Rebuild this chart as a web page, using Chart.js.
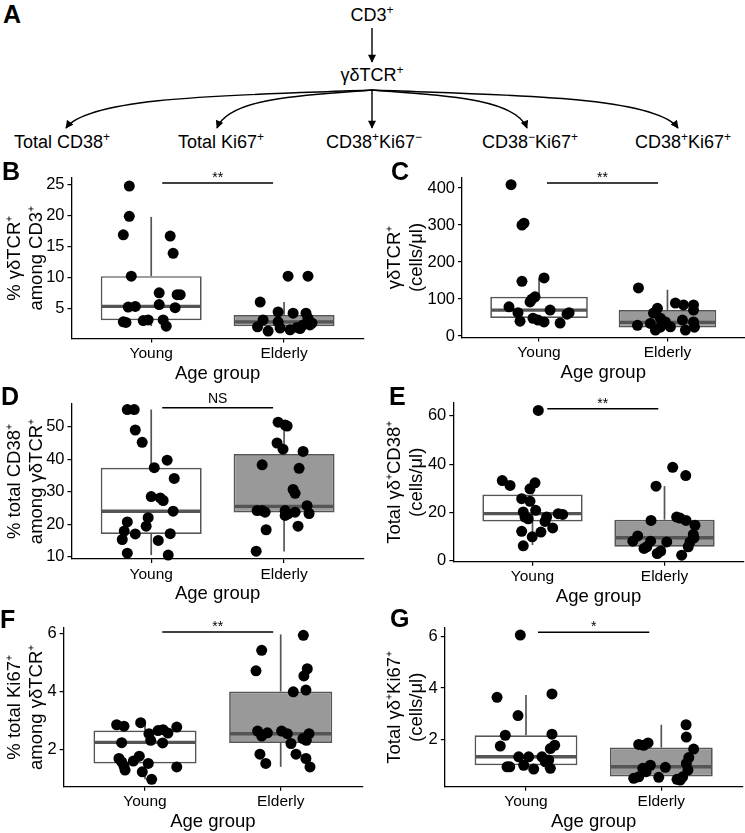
<!DOCTYPE html>
<html><head><meta charset="utf-8">
<script src="https://cdn.jsdelivr.net/npm/chart.js@4.4.0/dist/chart.umd.min.js"></script>
<style>
html,body{margin:0;padding:0;background:#fff;}
body{width:745px;height:833px;position:relative;overflow:hidden;font-family:"Liberation Sans",Arial,sans-serif;}
canvas{position:absolute;}
.lbl{position:absolute;font-weight:bold;font-size:25px;line-height:1;color:#000;z-index:5;}
svg{position:absolute;left:0;top:0;}
</style></head><body>
<svg width="745" height="155" font-family="Liberation Sans, Arial, sans-serif" font-size="18">
  <defs>
    <marker id="ah" viewBox="0 0 10 10" refX="9" refY="5" markerWidth="9" markerHeight="8" orient="auto" markerUnits="userSpaceOnUse">
      <path d="M0,0 L10,5 L0,10 z" fill="#000"/>
    </marker>
  </defs>
  <text x="372" y="21" text-anchor="middle">CD3<tspan dy="-7" font-size="12">+</tspan></text>
  <line x1="372" y1="28" x2="372" y2="62" stroke="#000" stroke-width="1.4" marker-end="url(#ah)"/>
  <text x="372" y="81" text-anchor="middle">γδTCR<tspan dy="-7" font-size="12">+</tspan></text>
  <g fill="none" stroke="#000" stroke-width="1.4">
    <path d="M372,90 C250,95 90,95 66,128" marker-end="url(#ah)"/>
    <path d="M372,90 C320,95 230,95 217,128" marker-end="url(#ah)"/>
    <path d="M372,90 L372,128" marker-end="url(#ah)"/>
    <path d="M372,90 C424,95 514,95 527,128" marker-end="url(#ah)"/>
    <path d="M372,90 C494,95 654,95 678,128" marker-end="url(#ah)"/>
  </g>
  <text x="62" y="148" text-anchor="middle">Total CD38<tspan dy="-7" font-size="12">+</tspan></text>
  <text x="221" y="148" text-anchor="middle">Total Ki67<tspan dy="-7" font-size="12">+</tspan></text>
  <text x="374" y="148" text-anchor="middle">CD38<tspan dy="-7" font-size="12">+</tspan><tspan dy="7">Ki67</tspan><tspan dy="-7" font-size="12">−</tspan></text>
  <text x="530" y="148" text-anchor="middle">CD38<tspan dy="-7" font-size="12">−</tspan><tspan dy="7">Ki67</tspan><tspan dy="-7" font-size="12">+</tspan></text>
  <text x="683" y="148" text-anchor="middle">CD38<tspan dy="-7" font-size="12">+</tspan><tspan dy="7">Ki67</tspan><tspan dy="-7" font-size="12">+</tspan></text>
</svg>
<div class="lbl" style="left:3px;top:2px">A</div>
<div class="lbl" style="left:2px;top:159px">B</div>
<div class="lbl" style="left:391px;top:159px">C</div>
<div class="lbl" style="left:1px;top:384px">D</div>
<div class="lbl" style="left:389px;top:384px">E</div>
<div class="lbl" style="left:0px;top:607px">F</div>
<div class="lbl" style="left:390px;top:606px">G</div>

<canvas id="cB" width="372" height="240" style="left:0;top:150px"></canvas>
<canvas id="cC" width="373" height="240" style="left:372px;top:150px"></canvas>
<canvas id="cD" width="372" height="225" style="left:0;top:390px"></canvas>
<canvas id="cE" width="373" height="225" style="left:372px;top:390px"></canvas>
<canvas id="cF" width="372" height="218" style="left:0;top:615px"></canvas>
<canvas id="cG" width="373" height="218" style="left:372px;top:615px"></canvas>

<script>
// ---------- DATA ----------
const groups = ['Young', 'Elderly'];

// Panel B: % γδTCR+ among CD3+
const bYoung = [24.8, 19.9, 16.9, 16.7, 13.9, 10.2, 7.5, 7.2, 7.2, 5.2, 5.3, 5.6, 5.1, 2.8, 2.7, 3.1, 3.0, 3.1, 2.1];
const bYoungJitter = [-0.165, -0.165, -0.21, 0.143, 0.165, -0.15, 0.06, 0.195, 0.218, -0.173, -0.12, 0.06, 0.18, -0.21, -0.19, -0.023, -0.06, 0.09, 0.113];
const bElderly = [10.2, 10.2, 6.0, 4.4, 4.2, 4.2, 3.4, 2.0, 3.1, 1.3, 2.8, 1.8, 1.5, 1.9, 2.3, 2.3, 2.6, 1.7];
const bElderlyJitter = [0.03, 0.18, -0.18, -0.045, 0.068, 0.165, 0.18, -0.2, -0.158, -0.12, -0.045, -0.03, 0.045, 0.098, 0.143, 0.195, 0.21, 0.12];
const bBoxYoung = [2.1, 3.06, 5.3, 10.2, 19.8];     // [lower whisker, Q1, median, Q3, upper whisker]
const bBoxElderly = [1.3, 2.1, 2.8, 3.9, 6.0];
const bTicks = [5, 10, 15, 20, 25];
const bSig = ['**', 1.083, 1.917, 25.28];

// Panel C: γδTCR+ (cells/μl)
const cYoung = [409, 300, 305, 148, 157, 106, 100, 92, 79, 63, 40, 48, 43, 38, 70, 35, 59, 63];
const cYoungJitter = [-0.218, -0.133, -0.117, -0.133, 0.039, -0.031, -0.055, -0.07, -0.234, -0.164, -0.148, -0.047, -0.008, 0.039, 0.086, 0.164, 0.218, 0.234];
const cElderly = [130, 75, 62, 89, 84, 84, 70, 29, 34, 16, 24, 38, 48, 25, 43, 16, 38, 24];
const cElderlyJitter = [-0.226, -0.078, -0.109, 0.062, 0.125, 0.203, 0.203, -0.234, -0.133, -0.094, -0.055, -0.016, -0.055, 0.023, 0.117, 0.14, 0.203, 0.21];
const cBoxYoung = [35, 49, 70, 106, 157];
const cBoxElderly = [16, 23, 37, 70, 125];
const cTicks = [0, 100, 200, 300, 400];
const cSig = ['**', 1.062, 1.927, 413.6];

// Panel D: % total CD38+ among γδTCR+
const dYoung = [55.3, 55.3, 49, 45.2, 39.7, 37.4, 34.1, 28.5, 28.1, 27.3, 24, 20.7, 22, 19.4, 17.9, 15.3, 17, 15, 17.1, 11.1, 10.5];
const dYoungJitter = [-0.18, -0.128, -0.12, -0.068, 0.12, 0.023, 0.173, 0, 0.068, 0.09, 0.165, -0.18, -0.023, -0.038, -0.203, -0.218, -0.12, 0.053, 0.143, -0.18, 0.128];
const dElderly = [51.4, 50.5, 50.2, 45, 43.1, 42.4, 38.3, 37.2, 30.7, 29.5, 24.2, 23.7, 24.2, 24.2, 23.2, 23.7, 22.7, 25.7, 23.3, 18.3, 19.4, 11.7];
const dElderlyJitter = [-0.045, 0.008, 0.023, -0.053, -0.008, 0.143, -0.165, 0.113, 0.068, 0.083, -0.165, -0.143, -0.203, 0.008, 0.03, 0.083, 0.008, 0.173, 0.188, -0.135, 0.105, -0.21];
const dBoxYoung = [10.5, 17.0, 24.0, 37.4, 55.3];
const dBoxElderly = [11.6, 23.6, 25.5, 41.6, 51.3];
const dTicks = [10, 20, 30, 40, 50];
const dSig = ['NS', 1.083, 1.917, 55.85];

// Panel E: Total γδ+CD38+ (cells/μl)
const eYoung = [62.3, 33.2, 31.2, 32.3, 29.8, 25.7, 24.6, 20.9, 20.2, 18.1, 17.4, 18.1, 16.3, 19.5, 19.2, 12.2, 11.9, 13.6, 9.9, 6.2];
const eYoungJitter = [0.044, -0.229, -0.17, 0.019, -0.019, -0.082, -0.019, 0.024, -0.07, -0.057, -0.032, 0.107, 0.095, 0.195, 0.229, -0.082, 0.064, 0.153, -0.002, -0.07];
const eElderly = [38.7, 35.3, 30.9, 16.7, 18.1, 17.7, 16.7, 14.7, 10.9, 9.5, 10.3, 8.1, 8.1, 7.8, 5.1, 5.8, 3.0, 4.0, 5.8, 2.3, 7.8];
const eElderlyJitter = [0.062, 0.161, -0.064, -0.102, 0.092, 0.117, 0.163, 0.231, 0.218, 0.223, -0.203, -0.24, -0.105, 0.017, -0.155, -0.134, -0.055, -0.029, 0.18, 0.13, 0.193];
const eBoxYoung = [6.5, 16.3, 19.5, 27.4, 33.2];
const eBoxElderly = [2.3, 5.8, 9.5, 17.0, 30.9];
const eTicks = [0, 20, 40, 60];
const eSig = ['**', 1.112, 1.953, 63.0];

// Panel F: % total Ki67+ among γδTCR+
const fYoung = [2.85, 2.80, 2.92, 2.23, 2.54, 2.31, 2.65, 2.68, 2.56, 2.77, 2.22, 1.68, 1.56, 1.28, 1.76, 1.59, 1.51, 1.22, 0.96, 1.39, 1.42];
const fYoungJitter = [-0.209, -0.155, -0.032, -0.172, 0.029, 0.042, 0.096, 0.133, 0.169, 0.234, 0.13, -0.192, -0.172, -0.147, -0.042, -0.086, 0.024, -0.02, 0.049, 0.234, -0.155];
const fElderly = [5.95, 5.43, 4.72, 4.79, 4.54, 4.05, 3.99, 2.63, 2.46, 2.57, 2.63, 2.54, 2.20, 2.54, 2.37, 2.31, 1.83, 1.83, 1.68, 1.51, 1.39];
const fElderlyJitter = [0.167, -0.14, -0.182, 0.196, 0.171, 0.186, 0.093, -0.17, -0.14, -0.098, 0.007, 0.049, 0.076, 0.209, 0.164, 0.189, -0.153, 0.113, 0.186, -0.11, 0.216];
const fBoxYoung = [0.96, 1.51, 2.24, 2.65, 2.92];
const fBoxElderly = [1.39, 2.22, 2.54, 4.0, 5.98];
const fTicks = [2, 4, 6];
const fSig = ['**', 1.127, 1.945, 6.06];

// Panel G: Total γδ+Ki67+ (cells/μl)
const gYoung = [6.07, 3.64, 3.77, 2.93, 2.16, 2.20, 1.74, 1.77, 1.64, 1.32, 1.32, 1.32, 1.19, 0.93, 0.93, 0.99, 0.84, 0.87, 1.12];
const gYoungJitter = [-0.042, -0.214, 0.192, -0.059, -0.153, 0.192, -0.19, 0.212, 0.18, -0.054, 0.02, 0.118, 0.168, -0.14, -0.12, -0.017, 0.057, 0.18, 0.143];
const gElderly = [2.57, 2.09, 1.80, 1.77, 1.86, 1.62, 1.29, 1.06, 0.80, 0.87, 0.99, 0.91, 0.48, 0.54, 0.52, 0.44, 0.41, 0.54, 0.74];
const gElderlyJitter = [0.183, 0.185, -0.167, -0.13, -0.098, 0.239, 0.203, 0.185, 0.197, -0.137, -0.081, 0.03, -0.204, -0.167, -0.019, 0.116, 0.14, 0.158, -0.113];
const gBoxYoung = [0.84, 0.99, 1.32, 2.16, 3.73];
const gBoxElderly = [0.41, 0.55, 0.93, 1.68, 2.57];
const gTicks = [2, 4, 6];
const gSig = ['*', 1.089, 1.911, 6.18];

// ---------- LAYOUT / STYLE ----------
const FONT = '"Liberation Sans", Arial, sans-serif';
const BOX_LINE = '#555555';
const FILLS = ['#ffffff', '#999999'];
const HALF = 0.38;

const panels = [
  { id: 'cB', canvas: [0, 150, 372, 240], plot: [71.5, 178, 363.8, 338.5], y: [0.1, 26.1], titlePad: 4.2,
    title: ['% γδTCR⁺', 'among CD3⁺'], young: bYoung, yj: bYoungJitter, elderly: bElderly, ej: bElderlyJitter,
    boxes: [bBoxYoung, bBoxElderly], ticks: bTicks, sig: bSig },
  { id: 'cC', canvas: [372, 150, 373, 240], plot: [462, 177.5, 744.5, 337.5], y: [-4, 428.5], titlePad: 12.2,
    title: ['γδTCR⁺', '(cells/μl)'], young: cYoung, yj: cYoungJitter, elderly: cElderly, ej: cElderlyJitter,
    boxes: [cBoxYoung, cBoxElderly], ticks: cTicks, sig: cSig },
  { id: 'cD', canvas: [0, 390, 372, 225], plot: [71.5, 404, 363.8, 559], y: [9.3, 57.0], titlePad: 4.2,
    title: ['% total CD38⁺', 'among γδTCR⁺'], young: dYoung, yj: dYoungJitter, elderly: dElderly, ej: dElderlyJitter,
    boxes: [dBoxYoung, dBoxElderly], ticks: dTicks, sig: dSig },
  { id: 'cE', canvas: [372, 390, 373, 225], plot: [453.3, 401.7, 743.7, 561.7], y: [-0.4, 65.4], titlePad: 12.2,
    title: ['Total γδ⁺CD38⁺', '(cells/μl)'], young: eYoung, yj: eYoungJitter, elderly: eElderly, ej: eElderlyJitter,
    boxes: [eBoxYoung, eBoxElderly], ticks: eTicks, sig: eSig },
  { id: 'cF', canvas: [0, 615, 372, 218], plot: [63.6, 626.7, 362.1, 786.7], y: [0.703, 6.206], titlePad: 4.2,
    title: ['% total Ki67⁺', 'among γδTCR⁺'], young: fYoung, yj: fYoungJitter, elderly: fElderly, ej: fElderlyJitter,
    boxes: [fBoxYoung, fBoxElderly], ticks: fTicks, sig: fSig },
  { id: 'cG', canvas: [372, 615, 373, 218], plot: [444.8, 626.7, 742.5, 786.7], y: [0.153, 6.348], titlePad: 12.2,
    title: ['Total γδ⁺Ki67⁺', '(cells/μl)'], young: gYoung, yj: gYoungJitter, elderly: gElderly, ej: gElderlyJitter,
    boxes: [gBoxYoung, gBoxElderly], ticks: gTicks, sig: gSig },
];

const sigTextPlugin = {
  id: 'sigText',
  afterDatasetsDraw(chart, args, opts) {
    const { ctx, scales: { x, y } } = chart;
    ctx.save();
    ctx.font = opts.size + 'px ' + FONT;
    ctx.fillStyle = '#000';
    ctx.textAlign = 'center';
    ctx.textBaseline = 'alphabetic';
    ctx.fillText(opts.text, x.getPixelForValue((opts.x1 + opts.x2) / 2), y.getPixelForValue(opts.y) - opts.lift);
    ctx.restore();
  }
};

function seg(x1, y1, x2, y2, color, width, order) {
  return { type: 'scatter', showLine: true, data: [{ x: x1, y: y1 }, { x: x2, y: y2 }],
    borderColor: color, borderWidth: width, pointRadius: 0, order: order, clip: false };
}

function build(p) {
  const [cl, ct, cw, ch] = p.canvas;
  const [L, T, R, B] = p.plot;
  const xH = 46.3;
  const datasets = [];
  // points
  const pts = p.young.map((v, i) => ({ x: 1 + p.yj[i], y: v }))
    .concat(p.elderly.map((v, i) => ({ x: 2 + p.ej[i], y: v })));
  datasets.push({ type: 'scatter', data: pts, backgroundColor: '#000', borderWidth: 0,
    pointRadius: 5.5, order: 0, clip: false });
  // boxes
  datasets.push({ type: 'bar', data: p.boxes.map((b, i) => ({ x: i + 1, y: [b[1], b[3]] })),
    backgroundColor: FILLS, borderColor: BOX_LINE, borderWidth: 1.7, borderSkipped: false,
    categoryPercentage: 2 * HALF, barPercentage: 1, order: 3 });
  p.boxes.forEach((b, i) => {
    const c = i + 1;
    datasets.push(seg(c, b[3], c, b[4], BOX_LINE, 1.7, 4));
    datasets.push(seg(c, b[0], c, b[1], BOX_LINE, 1.7, 4));
    datasets.push(seg(c - HALF + 0.006, b[2], c + HALF - 0.006, b[2], BOX_LINE, 3.4, 2));
  });
  // significance bar
  datasets.push(seg(p.sig[1], p.sig[3], p.sig[2], p.sig[3], '#000', 1.5, 1));

  const axisGrid = { display: true, drawOnChartArea: false, drawTicks: true, tickLength: 4,
    color: '#000', tickColor: '#000', lineWidth: 1.2, offset: false };
  const isNS = p.sig[0] === 'NS';

  new Chart(document.getElementById(p.id), {
    type: 'scatter',
    data: { datasets },
    plugins: [sigTextPlugin],
    options: {
      responsive: false, animation: false, events: [],
      layout: { autoPadding: false, padding: { left: 0, top: T - ct, right: cl + cw - R, bottom: ct + ch - B - xH } },
      plugins: { legend: { display: false }, tooltip: { enabled: false },
        sigText: { text: p.sig[0], x1: p.sig[1], x2: p.sig[2], y: p.sig[3], size: isNS ? 14 : 14, lift: isNS ? 5 : 1 } },
      scales: {
        x: {
          type: 'linear', min: 0.4, max: 2.6, offset: false,
          afterBuildTicks: s => { s.ticks = groups.map((g, i) => ({ value: i + 1 })); },
          afterFit: s => { s.height = xH; },
          ticks: { callback: v => groups[Math.round(v) - 1], font: { family: FONT, size: 15.5 }, color: '#000',
            padding: 2, autoSkip: false, maxRotation: 0 },
          grid: axisGrid,
          border: { display: true, color: '#000', width: 1.3 },
          title: { display: true, text: 'Age group', color: '#000', font: { family: FONT, size: 18.5 }, padding: 0 }
        },
        y: {
          type: 'linear', min: p.y[0], max: p.y[1],
          afterBuildTicks: s => { s.ticks = p.ticks.map(v => ({ value: v })); },
          afterFit: s => { s.width = L - cl; },
          ticks: { font: { family: FONT, size: 16.5 }, color: '#000', padding: 3 },
          grid: axisGrid,
          border: { display: true, color: '#000', width: 1.3 },
          title: { display: true, text: p.title, color: '#000', font: { family: FONT, size: 18.5, lineHeight: 1.18 },
            padding: { top: p.titlePad, bottom: 0 } }
        }
      }
    }
  });
}
panels.forEach(build);
</script>
</body></html>
